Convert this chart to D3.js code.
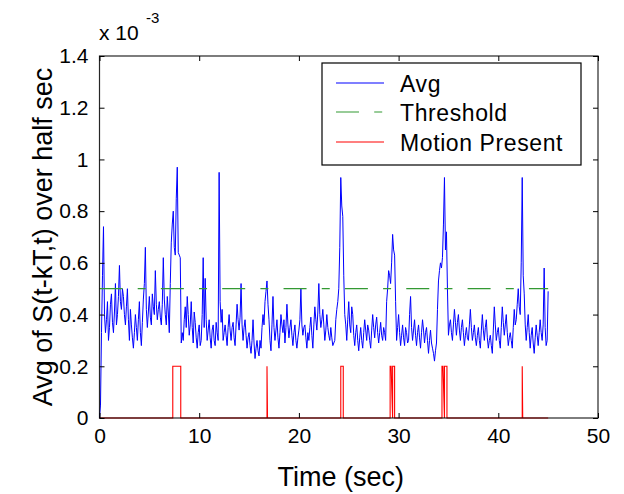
<!DOCTYPE html>
<html><head><meta charset="utf-8">
<script src="https://cdn.jsdelivr.net/npm/d3@7"></script>
<style>body{margin:0;background:#fff}svg{display:block;font-family:"Liberation Sans",Arial,sans-serif}</style>
</head><body><svg id="c" width="624" height="494"></svg>
<script>
// ---- data (values in units of 1e-3) ----
const avgStart = 0, avgStep = 0.1; // seconds
const avgValues = [
0,0.05,0.33,0.55,0.74,0.40,0.33,0.38,0.45,0.30,
0.35,0.44,0.48,0.37,0.33,0.41,0.52,0.36,0.40,0.47,
0.59,0.45,0.42,0.50,0.47,0.40,0.36,0.43,0.50,0.38,
0.30,0.42,0.36,0.31,0.27,0.33,0.40,0.35,0.30,0.38,
0.45,0.33,0.28,0.37,0.46,0.52,0.66,0.42,0.35,0.41,
0.47,0.39,0.36,0.48,0.43,0.40,0.57,0.44,0.38,0.42,
0.45,0.39,0.36,0.44,0.62,0.46,0.40,0.36,0.47,0.41,
0.33,0.52,0.68,0.75,0.80,0.66,0.63,0.85,0.97,0.64,
0.63,0.62,0.29,0.33,0.30,0.38,0.43,0.35,0.47,0.40,
0.32,0.36,0.45,0.35,0.29,0.41,0.37,0.31,0.27,0.33,
0.36,0.28,0.30,0.40,0.62,0.35,0.54,0.38,0.30,0.34,
0.38,0.31,0.27,0.34,0.36,0.30,0.28,0.37,0.33,0.30,
0.95,0.45,0.37,0.42,0.30,0.33,0.36,0.32,0.28,0.35,
0.40,0.34,0.30,0.35,0.37,0.31,0.28,0.36,0.44,0.38,
0.34,0.39,0.52,0.36,0.30,0.35,0.38,0.32,0.27,0.31,
0.33,0.28,0.25,0.30,0.38,0.29,0.23,0.27,0.30,0.26,
0.24,0.30,0.27,0.35,0.40,0.36,0.45,0.49,0.53,0.44,
0.38,0.30,0.26,0.36,0.47,0.35,0.30,0.34,0.38,0.31,
0.27,0.33,0.40,0.36,0.33,0.38,0.29,0.35,0.44,0.36,
0.31,0.35,0.38,0.32,0.28,0.33,0.36,0.30,0.27,0.31,
0.34,0.38,0.50,0.36,0.32,0.35,0.36,0.31,0.27,0.33,
0.30,0.35,0.39,0.32,0.27,0.36,0.43,0.38,0.34,0.41,
0.52,0.40,0.35,0.38,0.42,0.36,0.30,0.34,0.40,0.35,
0.32,0.30,0.35,0.31,0.28,0.29,0.30,0.38,0.42,0.45,
0.50,0.66,0.93,0.82,0.78,0.55,0.40,0.36,0.30,0.38,
0.45,0.36,0.33,0.43,0.40,0.32,0.28,0.33,0.36,0.30,
0.26,0.31,0.35,0.30,0.27,0.33,0.38,0.34,0.30,0.36,
0.34,0.30,0.27,0.34,0.40,0.35,0.31,0.36,0.39,0.33,
0.29,0.33,0.37,0.32,0.30,0.35,0.33,0.30,0.45,0.50,
0.57,0.55,0.52,0.60,0.71,0.65,0.63,0.45,0.30,0.35,
0.40,0.33,0.28,0.32,0.36,0.31,0.28,0.35,0.33,0.29,
0.30,0.40,0.47,0.35,0.30,0.34,0.38,0.32,0.28,0.33,
0.36,0.31,0.27,0.33,0.38,0.34,0.29,0.33,0.35,0.30,
0.25,0.30,0.34,0.29,0.27,0.25,0.22,0.26,0.29,0.42,
0.53,0.57,0.60,0.58,0.62,0.75,0.93,0.65,0.72,0.50,
0.32,0.36,0.38,0.33,0.30,0.36,0.42,0.37,0.32,0.37,
0.40,0.34,0.30,0.35,0.38,0.33,0.28,0.32,0.35,0.31,
0.30,0.36,0.42,0.35,0.30,0.33,0.36,0.31,0.28,0.32,
0.35,0.30,0.27,0.34,0.40,0.34,0.30,0.35,0.38,0.31,
0.27,0.30,0.32,0.28,0.25,0.34,0.43,0.36,0.30,0.33,
0.35,0.30,0.27,0.35,0.43,0.37,0.32,0.36,0.40,0.33,
0.28,0.31,0.33,0.30,0.27,0.35,0.42,0.36,0.38,0.44,
0.50,0.43,0.40,0.60,0.93,0.55,0.48,0.36,0.30,0.35,
0.40,0.33,0.27,0.32,0.35,0.29,0.25,0.31,0.36,0.32,
0.28,0.33,0.38,0.33,0.30,0.36,0.58,0.35,0.28,0.30,
0.49
];
const thresholdTimes = [0, 45];
const thresholdValues = [0.5, 0.5];
const motionTimes  = [0,7.35,7.35,8.15,8.15,16.8,16.8,16.85,24.2,24.2,24.45,24.45,29.15,29.15,29.25,29.4,29.4,29.6,29.6,34.35,34.35,34.45,34.6,34.6,34.85,34.85,42.4,42.4,42.45,45];
const motionValues = [0,0,0.2,0.2,0,0,0.2,0,0,0.2,0.2,0,0,0.2,0.2,0,0.2,0.2,0,0,0.2,0.2,0,0.2,0.2,0,0,0.2,0,0];
const xTicks = [0,10,20,30,40,50];
const yTicks = [0,0.2,0.4,0.6,0.8,1,1.2,1.4];
const seriesNames = ["Avg","Threshold","Motion Present"];

// ---- layout ----
const L = 99.5, R = 598, T = 56, B = 418;
const svg = d3.select("#c");
const x = d3.scaleLinear().domain([0,50]).range([L,R]);
const y = d3.scaleLinear().domain([0,1.4]).range([B,T]);
const fmt = d => String(+d.toFixed(1));

svg.append("rect").attr("x",L).attr("y",T).attr("width",R-L).attr("height",B-T).attr("fill","#fff");

const avgData = avgValues.map((v,i)=>[avgStart+i*avgStep, v]);
const line = d3.line().x(d=>x(d[0])).y(d=>y(d[1]));
const colors = {avg:"#0000ff", thr:"#339933", mot:"#ff0000"};
const dash = "23,15.2,8,15.15";

svg.append("path").datum(avgData).attr("d",line).attr("fill","none")
  .attr("stroke",colors.avg).attr("stroke-width",1).attr("stroke-linejoin","miter");
svg.append("path").datum(thresholdTimes.map((t,i)=>[t,thresholdValues[i]])).attr("d",line)
  .attr("fill","none").attr("stroke",colors.thr).attr("stroke-width",1.2).attr("stroke-dasharray",dash);
svg.append("path").datum(motionTimes.map((t,i)=>[t,motionValues[i]])).attr("d",line)
  .attr("fill","none").attr("stroke",colors.mot).attr("stroke-width",1.1);

// axes (ticks inward, all sides)
const tk = 5;
const gB = svg.append("g").attr("transform",`translate(0,${B})`)
  .call(d3.axisBottom(x).tickValues(xTicks).tickSizeInner(-tk).tickSizeOuter(0).tickPadding(10).tickFormat(fmt));
const gL = svg.append("g").attr("transform",`translate(${L},0)`)
  .call(d3.axisLeft(y).tickValues(yTicks).tickSizeInner(-tk).tickSizeOuter(0).tickPadding(11).tickFormat(fmt));
const gT = svg.append("g").attr("transform",`translate(0,${T})`)
  .call(d3.axisTop(x).tickValues(xTicks).tickSizeInner(-tk).tickSizeOuter(0).tickFormat(""));
const gR = svg.append("g").attr("transform",`translate(${R},0)`)
  .call(d3.axisRight(y).tickValues(yTicks).tickSizeInner(-tk).tickSizeOuter(0).tickFormat(""));
[gB,gL,gT,gR].forEach(g=>{
  g.select(".domain").remove();
  g.selectAll(".tick line").attr("stroke","#000").attr("stroke-width",1);
  g.selectAll(".tick text").attr("font-size",21).attr("fill","#000").attr("font-family","Liberation Sans, Arial, sans-serif");
});
gB.selectAll(".tick text").attr("dy","0.71em");
svg.append("rect").attr("x",L).attr("y",T).attr("width",R-L).attr("height",B-T)
  .attr("fill","none").attr("stroke","#000").attr("stroke-width",1.2).attr("stroke-opacity",0.85);

// exponent label
const ex = svg.append("text").attr("x",99).attr("y",40).attr("font-size",21).attr("fill","#000");
ex.append("tspan").text("x 10");
ex.append("tspan").attr("x",146).attr("y",23).attr("font-size",15).text("-3");

// axis titles
svg.append("text").attr("x",(L+R)/2 - 8).attr("y",486).attr("text-anchor","middle")
  .attr("font-size",27).attr("fill","#000").text("Time (sec)");
svg.append("text").attr("transform",`translate(52,${(T+B)/2}) rotate(-90)`).attr("text-anchor","middle")
  .attr("font-size",27).attr("fill","#000").text("Avg of S(t-kT,t) over half sec");

// legend
const lg = svg.append("g");
lg.append("rect").attr("x",322).attr("y",63).attr("width",259).attr("height",102)
  .attr("fill","#fff").attr("stroke","#000").attr("stroke-width",1.2);
const rows = [83,112,142];
const legendStyles = [{c:colors.avg,d:null},{c:colors.thr,d:dash},{c:colors.mot,d:null}];
seriesNames.forEach((n,i)=>{
  lg.append("line").attr("x1",336).attr("x2",384).attr("y1",rows[i]).attr("y2",rows[i])
    .attr("stroke",legendStyles[i].c).attr("stroke-width",1.1).attr("stroke-dasharray",legendStyles[i].d);
  lg.append("text").attr("x",400).attr("y",rows[i]+8.5).attr("font-size",23).attr("fill","#000")
    .attr("letter-spacing",0.6).text(n);
});
</script></body></html>
